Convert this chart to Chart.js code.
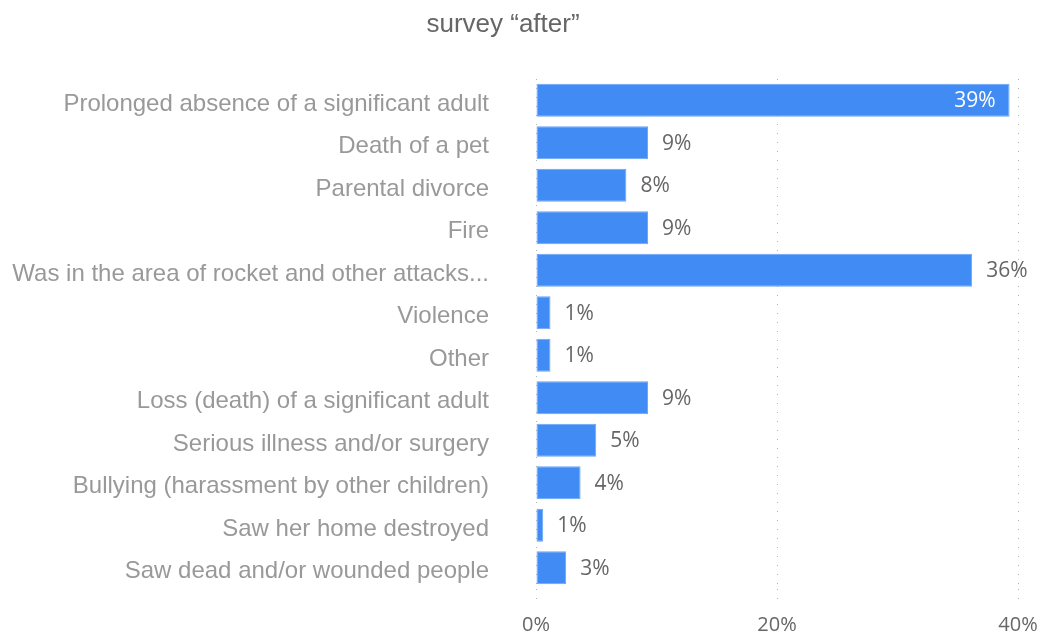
<!DOCTYPE html>
<html>
<head>
<meta charset="utf-8">
<script src="https://cdn.jsdelivr.net/npm/chart.js@4"></script>
<style>
  html, body { margin: 0; padding: 0; background: #fff; }
  #wrap { width: 1044px; height: 633px; position: relative; }
</style>
</head>
<body>
<div id="wrap"><canvas id="surveyChart"></canvas></div>
<script>
const chartTitle = 'survey \u201cafter\u201d';

const categories = [
    'Prolonged absence of a significant adult',
    'Death of a pet',
    'Parental divorce',
    'Fire',
    'Was in the area of rocket and other attacks...',
    'Violence',
    'Other',
    'Loss (death) of a significant adult',
    'Serious illness and/or surgery',
    'Bullying (harassment by other children)',
    'Saw her home destroyed',
    'Saw dead and/or wounded people'
];

const percentValues = [39.3, 9.3, 7.5, 9.3, 36.2, 1.2, 1.2, 9.3, 5.0, 3.7, 0.6, 2.5];

const xTicks = [0, 20, 40];

// draws the title slightly left of the canvas centre, like the original
const titlePlugin = {
    id: 'titleText',
    afterDraw(chart) {
        const ctx = chart.ctx;
        ctx.save();
        ctx.font = '26px "Liberation Sans", Arial, sans-serif';
        ctx.fillStyle = '#666666';
        ctx.textAlign = 'center';
        ctx.textBaseline = 'middle';
        ctx.fillText(chartTitle, 503, 25);
        ctx.restore();
    }
};

// value labels at the end of each bar (inside when there is no room)
const valueLabels = {
    id: 'valueLabels',
    afterDatasetsDraw(chart) {
        const ctx = chart.ctx;
        const meta = chart.getDatasetMeta(0);
        ctx.save();
        ctx.font = '21px "Open Sans", "DejaVu Sans", sans-serif';
        ctx.textBaseline = 'middle';
        meta.data.forEach((bar, i) => {
            const text = Math.round(percentValues[i]) + '%';
            if (bar.x > chart.chartArea.right - 30) {
                ctx.fillStyle = '#ffffff';
                ctx.textAlign = 'right';
                ctx.fillText(text, bar.x - 14, bar.y + 1);
            } else {
                ctx.fillStyle = '#666666';
                ctx.textAlign = 'left';
                ctx.fillText(text, bar.x + 14, bar.y + 1);
            }
        });
        ctx.restore();
    }
};

const ctx = document.getElementById('surveyChart').getContext('2d');

new Chart(ctx, {
    type: 'bar',
    data: {
        labels: categories,
        datasets: [{
            data: percentValues,
            backgroundColor: '#418bf5',
            borderColor: '#6aa4f7',
            borderWidth: 1,
            borderSkipped: false,
            categoryPercentage: 1,
            barPercentage: 0.78
        }]
    },
    options: {
        indexAxis: 'y',
        responsive: true,
        maintainAspectRatio: false,
        animation: false,
        layout: {
            padding: { top: 79, right: 26, bottom: 0, left: 0 }
        },
        plugins: {
            legend: { display: false },
            title: { display: false },
            tooltip: { enabled: false }
        },
        scales: {
            x: {
                min: 0,
                max: 40,
                afterBuildTicks(scale) {
                    scale.ticks = xTicks.map(v => ({ value: v }));
                },
                afterFit(scale) {
                    scale.height = 44;
                    scale.paddingLeft = 0;
                    scale.paddingRight = 0;
                },
                grid: {
                    color: '#b4b4b4',
                    lineWidth: 1,
                    borderDash: [1, 8],
                    tickBorderDash: [1, 8],
                    tickLength: 14,
                    tickColor: '#b4b4b4'
                },
                border: { display: false, dash: [1, 8] },
                ticks: {
                    padding: 10,
                    maxRotation: 0,
                    color: '#666666',
                    font: { family: '"Open Sans", "DejaVu Sans", sans-serif', size: 20 },
                    callback: (v) => v + '%'
                }
            },
            y: {
                afterFit(scale) {
                    scale.width = 536;
                    scale.paddingTop = 0;
                    scale.paddingBottom = 0;
                },
                grid: { display: false },
                border: { display: false },
                ticks: {
                    padding: 39,
                    labelOffset: 4,
                    color: '#999999',
                    font: { family: '"Liberation Sans", Arial, sans-serif', size: 24 }
                }
            }
        }
    },
    plugins: [titlePlugin, valueLabels]
});
</script>
</body>
</html>
